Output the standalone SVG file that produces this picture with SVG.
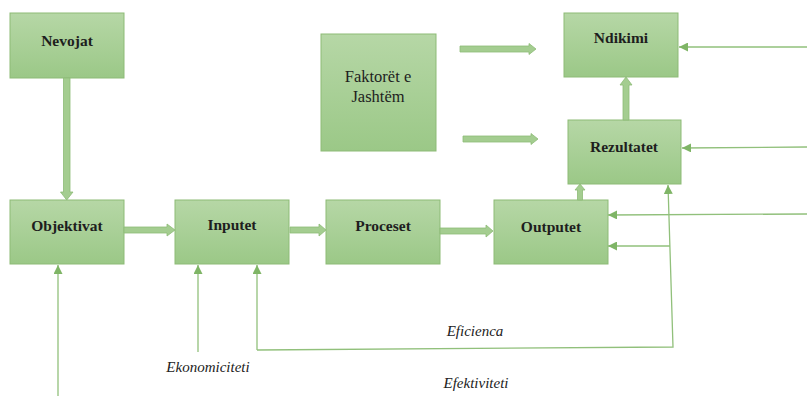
<svg xmlns="http://www.w3.org/2000/svg" width="807" height="396" viewBox="0 0 807 396">
<style>
.box{fill:url(#g);stroke:#8dbb76;stroke-width:1}
.lbl{font-family:"Liberation Serif",serif;font-size:15.5px;font-weight:bold;fill:#1e1e1e;text-anchor:middle}
.lblr{font-family:"Liberation Serif",serif;font-size:16.5px;fill:#1e1e1e;text-anchor:middle}
.it{font-family:"Liberation Serif",serif;font-size:15px;font-style:italic;fill:#222;text-anchor:middle}
.blk{fill:#a4cd90;stroke:#8dbb76;stroke-width:0.8}
.thin{fill:none;stroke:#91c07b;stroke-width:1.3}
</style>
<defs>
<linearGradient id="g" x1="0" y1="0" x2="0" y2="1">
<stop offset="0" stop-color="#b6d7a6"/>
<stop offset="1" stop-color="#9bc887"/>
</linearGradient>
<marker id="ah" viewBox="0 0 10 10" refX="10" refY="5" markerWidth="9" markerHeight="9" markerUnits="userSpaceOnUse" orient="auto">
<path d="M0,0 L10,5 L0,10 Z" fill="#7fb566"/>
</marker>
</defs>
<rect width="807" height="396" fill="#fff"/>
<g id="nevojat"><rect class="box" x="10" y="13" width="114" height="65"/><text class="lbl" x="67" y="46">Nevojat</text></g>
<g id="objektivat"><rect class="box" x="10" y="200" width="114" height="64"/><text class="lbl" x="67" y="231">Objektivat</text></g>
<g id="inputet"><rect class="box" x="175" y="200" width="114" height="64"/><text class="lbl" x="232" y="230">Inputet</text></g>
<g id="proceset"><rect class="box" x="326" y="200" width="114" height="64"/><text class="lbl" x="383" y="231">Proceset</text></g>
<g id="outputet"><rect class="box" x="494" y="200" width="114" height="64"/><text class="lbl" x="551" y="232">Outputet</text></g>
<g id="faktoret"><rect class="box" x="321" y="34" width="115" height="117"/><text class="lblr" x="378" y="82">Faktorët e</text><text class="lblr" x="378" y="102">Jashtëm</text></g>
<g id="ndikimi"><rect class="box" x="564" y="13" width="114" height="64"/><text class="lbl" x="621" y="43">Ndikimi</text></g>
<g id="rezultatet"><rect class="box" x="568" y="120" width="113" height="64"/><text class="lbl" x="624" y="152">Rezultatet</text></g>
<g id="connectors">
<path class="blk" d="M63.5,78 H70 V192 H73 L66.7,200 L60.5,192 H63.5 Z"/>
<path class="blk" d="M124,227 H167 V224 L175,230 L167,236 V233 H124 Z"/>
<path class="blk" d="M290,227 H319 V224 L326,230 L319,236 V233 H290 Z"/>
<path class="blk" d="M440,228 H486 V225 L493,231 L486,237 V234 H440 Z"/>
<path class="blk" d="M460,46 H529 V43.5 L536,49 L529,54.5 V52 H460 Z"/>
<path class="blk" d="M463,136 H531 V133.5 L538,139 L531,144.5 V142 H463 Z"/>
<path class="blk" d="M623,120 V85 H620 L626,77 L632,85 H629 V120 Z"/>
<path class="blk" d="M577.5,200 V190 H575 L580,184 L585,190 H582.5 V200 Z"/>
<line class="thin" x1="807" y1="47" x2="679" y2="47" marker-end="url(#ah)"/>
<line class="thin" x1="807" y1="147" x2="682" y2="148" marker-end="url(#ah)"/>
<line class="thin" x1="807" y1="214" x2="608" y2="215" marker-end="url(#ah)"/>
<line class="thin" x1="670" y1="246" x2="608" y2="246" marker-end="url(#ah)"/>
<polyline class="thin" points="257,350 673,347 668,185" marker-end="url(#ah)"/>
<line class="thin" x1="257" y1="350" x2="257" y2="265" marker-end="url(#ah)"/>
<line class="thin" x1="198" y1="352" x2="198" y2="265" marker-end="url(#ah)"/>
<line class="thin" x1="58" y1="396" x2="58" y2="265" marker-end="url(#ah)"/>
</g>
<text class="it" x="208" y="372">Ekonomiciteti</text>
<text class="it" x="475" y="336">Eficienca</text>
<text class="it" x="476" y="388">Efektiviteti</text>
</svg>
